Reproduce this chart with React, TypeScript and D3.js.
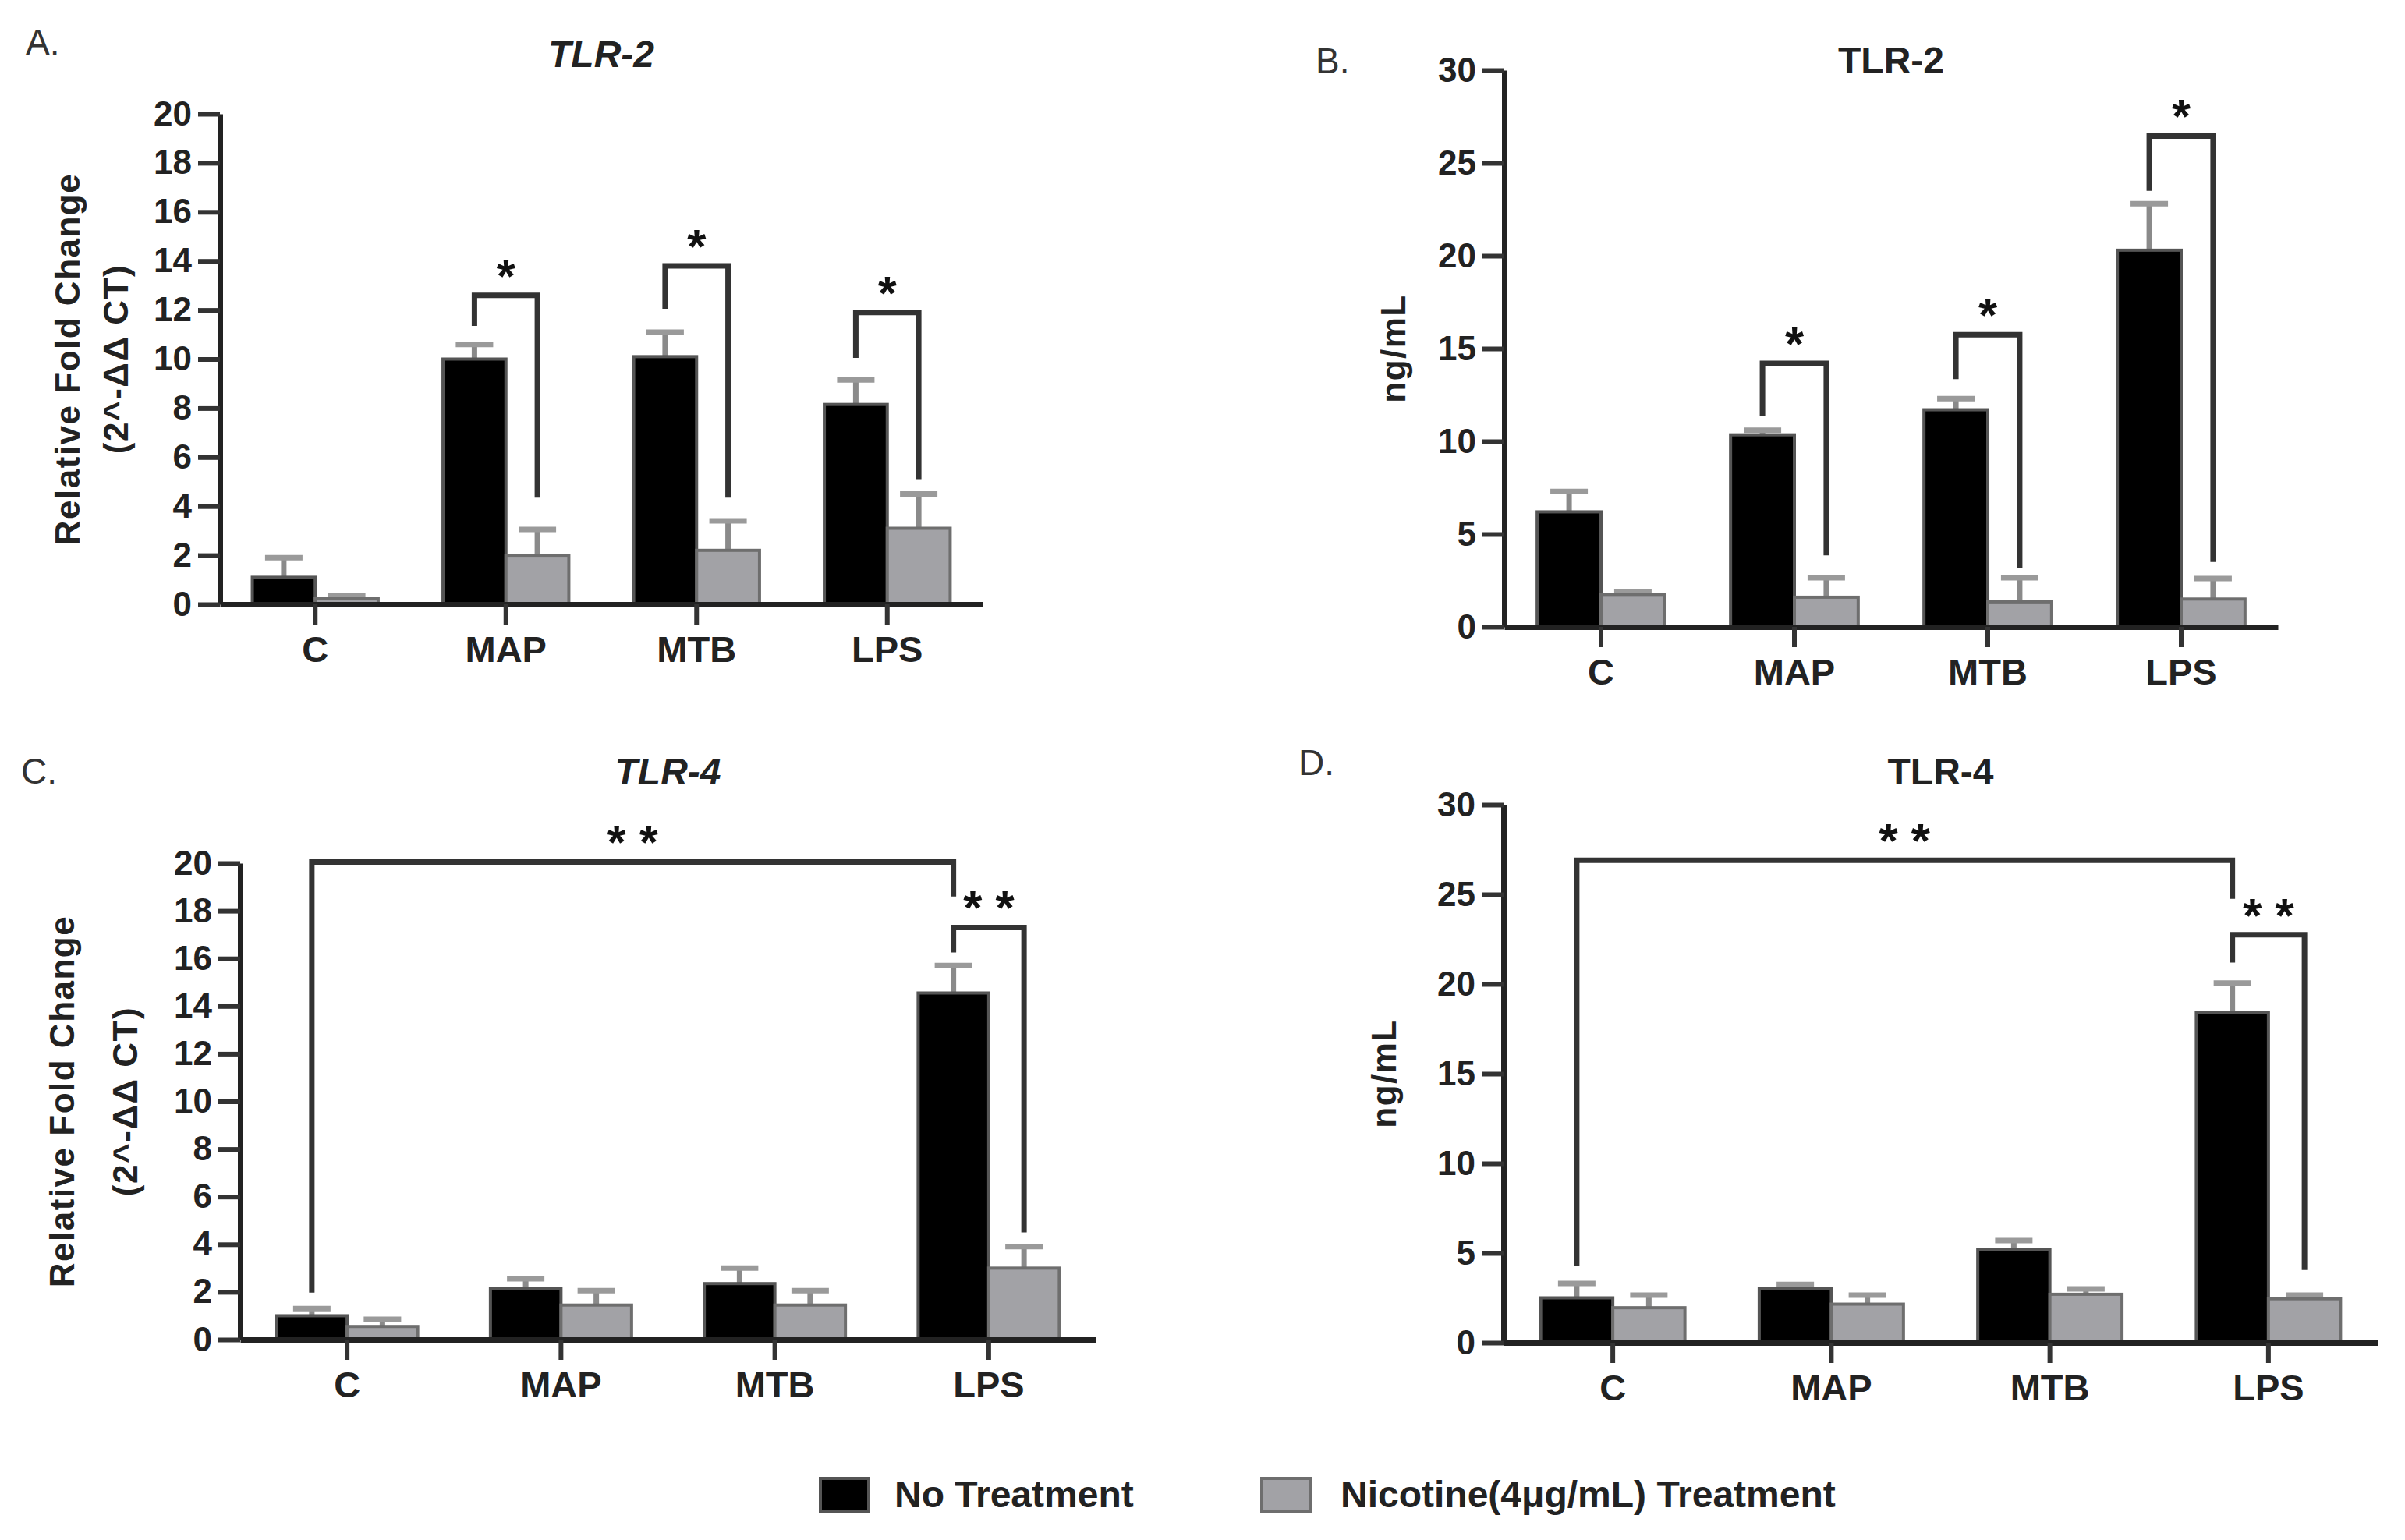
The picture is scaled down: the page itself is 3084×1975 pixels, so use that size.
import { useEffect, useRef } from "react";
import * as d3 from "d3";

const groups = ["C", "MAP", "MTB", "LPS"];
const legendLabels = ["No Treatment", "Nicotine(4μg/mL) Treatment"];

const foldTicks = [0, 2, 4, 6, 8, 10, 12, 14, 16, 18, 20];
const ngTicks = [0, 5, 10, 15, 20, 25, 30];

// A. TLR-2 relative fold change
const tlr2FoldNone = [1.1, 10.0, 10.1, 8.15];
const tlr2FoldNoneSem = [0.8, 0.6, 1.0, 1.0];
const tlr2FoldNic = [0.25, 2.0, 2.2, 3.1];
const tlr2FoldNicSem = [0.1, 1.05, 1.2, 1.4];

// B. TLR-2 ng/mL
const tlr2NgNone = [6.2, 10.35, 11.7, 20.3];
const tlr2NgNoneSem = [1.1, 0.25, 0.6, 2.5];
const tlr2NgNic = [1.75, 1.6, 1.35, 1.5];
const tlr2NgNicSem = [0.15, 1.05, 1.3, 1.1];

// C. TLR-4 relative fold change
const tlr4FoldNone = [1.0, 2.15, 2.35, 14.55];
const tlr4FoldNoneSem = [0.3, 0.4, 0.65, 1.15];
const tlr4FoldNic = [0.55, 1.45, 1.45, 3.0];
const tlr4FoldNicSem = [0.3, 0.6, 0.6, 0.9];

// D. TLR-4 ng/mL
const tlr4NgNone = [2.5, 3.0, 5.2, 18.4];
const tlr4NgNoneSem = [0.8, 0.25, 0.5, 1.65];
const tlr4NgNic = [1.95, 2.15, 2.7, 2.45];
const tlr4NgNicSem = [0.7, 0.5, 0.3, 0.2];

// significance brackets: [group, series] -> [group, series], heights in data units
type Bracket = { a: [number, number]; b: [number, number]; top: number; aEnd: number; bEnd: number; label: string };

const tlr2FoldBrackets: Bracket[] = [
  { a: [1, 0], b: [1, 1], top: 12.6, aEnd: 11.35, bEnd: 4.35, label: "*" },
  { a: [2, 0], b: [2, 1], top: 13.8, aEnd: 12.05, bEnd: 4.35, label: "*" },
  { a: [3, 0], b: [3, 1], top: 11.9, aEnd: 10.05, bEnd: 5.1, label: "*" },
];
const tlr2NgBrackets: Bracket[] = [
  { a: [1, 0], b: [1, 1], top: 14.2, aEnd: 11.35, bEnd: 3.85, label: "*" },
  { a: [2, 0], b: [2, 1], top: 15.75, aEnd: 13.35, bEnd: 3.15, label: "*" },
  { a: [3, 0], b: [3, 1], top: 26.45, aEnd: 23.5, bEnd: 3.5, label: "*" },
];
const tlr4FoldBrackets: Bracket[] = [
  { a: [0, 0], b: [3, 0], top: 20.05, aEnd: 1.97, bEnd: 18.6, label: "* *" },
  { a: [3, 0], b: [3, 1], top: 17.3, aEnd: 16.25, bEnd: 4.5, label: "* *" },
];
const tlr4NgBrackets: Bracket[] = [
  { a: [0, 0], b: [3, 0], top: 26.9, aEnd: 4.3, bEnd: 24.75, label: "* *" },
  { a: [3, 0], b: [3, 1], top: 22.75, aEnd: 21.2, bEnd: 4.05, label: "* *" },
];

const FONT = "'Liberation Sans', Arial, Helvetica, sans-serif";
const barColors = ["#000000", "#a2a2a6"];
const barStrokes = ["#555555", "#6e6e6e"];

const panels = [
  {
    letter: "A.", title: "TLR-2", italic: true, yLabel: ["Relative Fold Change", "(2^-ΔΔ CT)"],
    ticks: foldTicks, means: [tlr2FoldNone, tlr2FoldNic], sems: [tlr2FoldNoneSem, tlr2FoldNicSem], brackets: tlr2FoldBrackets,
    left: 282, right: 1260, top: 146, bottom: 775, letterX: 33, letterY: 70, titleY: 86, labelX: [87, 149],
  },
  {
    letter: "B.", title: "TLR-2", italic: false, yLabel: ["ng/mL"],
    ticks: ngTicks, means: [tlr2NgNone, tlr2NgNic], sems: [tlr2NgNoneSem, tlr2NgNicSem], brackets: tlr2NgBrackets,
    left: 1929, right: 2921, top: 90, bottom: 804, letterX: 1687, letterY: 94, titleY: 94, labelX: [1787],
  },
  {
    letter: "C.", title: "TLR-4", italic: true, yLabel: ["Relative Fold Change", "(2^-ΔΔ CT)"],
    ticks: foldTicks, means: [tlr4FoldNone, tlr4FoldNic], sems: [tlr4FoldNoneSem, tlr4FoldNicSem], brackets: tlr4FoldBrackets,
    left: 308, right: 1405, top: 1107, bottom: 1718, letterX: 27, letterY: 1005, titleY: 1006, labelX: [80, 161],
  },
  {
    letter: "D.", title: "TLR-4", italic: false, yLabel: ["ng/mL"],
    ticks: ngTicks, means: [tlr4NgNone, tlr4NgNic], sems: [tlr4NgNoneSem, tlr4NgNicSem], brackets: tlr4NgBrackets,
    left: 1928, right: 3049, top: 1032, bottom: 1722, letterX: 1665, letterY: 994, titleY: 1006, labelX: [1775],
  },
];

type Panel = (typeof panels)[0];

function drawPanel(svg: d3.Selection<SVGSVGElement, unknown, null, undefined>, p: Panel) {
  const x = d3.scaleBand<string>().domain(groups).range([p.left, p.right]).paddingInner(0.34).paddingOuter(0.17);
  const xs = d3.scaleBand<number>().domain([0, 1]).range([0, x.bandwidth()]);
  const y = d3.scaleLinear().domain([0, p.ticks[p.ticks.length - 1]]).range([p.bottom, p.top]);
  const g = svg.append("g").attr("font-family", FONT);

  // bars + SEM (upper only)
  [0, 1].forEach((s) => {
    const rows = groups.map((c, i) => ({ c, v: p.means[s][i], e: p.sems[s][i] }));
    const cx = (c: string) => (x(c) as number) + (xs(s) as number) + xs.bandwidth() / 2;

    g.append("g")
      .selectAll("line.stem")
      .data(rows)
      .enter()
      .append("line")
      .attr("x1", (d) => cx(d.c))
      .attr("x2", (d) => cx(d.c))
      .attr("y1", (d) => y(d.v))
      .attr("y2", (d) => y(d.v + d.e))
      .attr("stroke", "#8a8a8a")
      .attr("stroke-width", 7);

    g.append("g")
      .selectAll("line.cap")
      .data(rows)
      .enter()
      .append("line")
      .attr("x1", (d) => cx(d.c) - 24)
      .attr("x2", (d) => cx(d.c) + 24)
      .attr("y1", (d) => y(d.v + d.e))
      .attr("y2", (d) => y(d.v + d.e))
      .attr("stroke", "#9a9a9a")
      .attr("stroke-width", 7);

    g.append("g")
      .selectAll("rect")
      .data(rows)
      .enter()
      .append("rect")
      .attr("x", (d) => (x(d.c) as number) + (xs(s) as number))
      .attr("y", (d) => y(d.v))
      .attr("width", xs.bandwidth())
      .attr("height", (d) => y(0) - y(d.v))
      .attr("fill", barColors[s])
      .attr("stroke", barStrokes[s])
      .attr("stroke-width", 4);
  });

  // axes
  const yAxis = g
    .append("g")
    .attr("transform", `translate(${p.left},0)`)
    .call(d3.axisLeft(y).tickValues(p.ticks).tickSize(28).tickSizeOuter(0).tickPadding(8));
  yAxis.select(".domain").attr("stroke", "#222").attr("stroke-width", 7);
  yAxis.selectAll(".tick line").attr("stroke", "#333").attr("stroke-width", 6);
  yAxis.selectAll(".tick text").attr("font-size", 44).attr("font-weight", "bold").attr("fill", "#222").attr("font-family", FONT);

  const xAxis = g
    .append("g")
    .attr("transform", `translate(0,${p.bottom})`)
    .call(d3.axisBottom(x).tickSize(26).tickSizeOuter(0).tickPadding(15));
  xAxis.select(".domain").attr("stroke", "#222").attr("stroke-width", 7);
  xAxis.selectAll(".tick line").attr("stroke", "#333").attr("stroke-width", 6);
  xAxis.selectAll(".tick text").attr("font-size", 47).attr("font-weight", "bold").attr("fill", "#222").attr("font-family", FONT);

  // significance brackets
  const legX = (ref: [number, number]) => (x(groups[ref[0]]) as number) + (xs(ref[1]) as number) + xs.bandwidth() / 2;
  p.brackets.forEach((b) => {
    const xa = legX(b.a);
    const xb = legX(b.b);
    g.append("path")
      .attr("d", `M${xa},${y(b.aEnd)}V${y(b.top)}H${xb}V${y(b.bEnd)}`)
      .attr("fill", "none")
      .attr("stroke", "#333")
      .attr("stroke-width", 7);
    g.append("text")
      .attr("x", (xa + xb) / 2)
      .attr("y", y(b.top) - 4)
      .attr("text-anchor", "middle")
      .attr("font-size", 62)
      .attr("font-weight", "bold")
      .attr("fill", "#111")
      .text(b.label);
  });

  // title, panel letter, y label
  g.append("text")
    .attr("x", (p.left + p.right) / 2)
    .attr("y", p.titleY)
    .attr("text-anchor", "middle")
    .attr("font-size", 48)
    .attr("font-weight", "bold")
    .attr("font-style", p.italic ? "italic" : "normal")
    .attr("fill", "#222")
    .text(p.title);

  g.append("text")
    .attr("x", p.letterX)
    .attr("y", p.letterY)
    .attr("font-size", 46)
    .attr("fill", "#333")
    .text(p.letter);

  p.yLabel.forEach((t, i) => {
    g.append("text")
      .attr("transform", `translate(${p.labelX[i]},${(p.top + p.bottom) / 2}) rotate(-90)`)
      .attr("text-anchor", "middle")
      .attr("dy", "0.35em")
      .attr("font-size", 44)
      .attr("font-weight", "bold")
      .attr("letter-spacing", 1.5)
      .attr("fill", "#222")
      .text(t);
  });
}

export default function App() {
  const svgRef = useRef<SVGSVGElement>(null);

  useEffect(() => {
    if (!svgRef.current) return;
    const svg = d3.select(svgRef.current);
    svg.selectAll("*").remove();

    panels.forEach((p) => drawPanel(svg, p));

    // legend
    const legend = svg.append("g").attr("font-family", FONT);
    const items = [
      { label: legendLabels[0], x: 1052, tx: 1147 },
      { label: legendLabels[1], x: 1618, tx: 1719 },
    ];
    items.forEach((it, i) => {
      legend
        .append("rect")
        .attr("x", it.x)
        .attr("y", 1896)
        .attr("width", 62)
        .attr("height", 42)
        .attr("fill", barColors[i])
        .attr("stroke", barStrokes[i])
        .attr("stroke-width", 4);
      legend
        .append("text")
        .attr("x", it.tx)
        .attr("y", 1933)
        .attr("font-size", 48)
        .attr("font-weight", "bold")
        .attr("fill", "#222")
        .text(it.label);
    });
  }, []);

  return (
    <svg
      ref={svgRef}
      width={3084}
      height={1975}
      viewBox="0 0 3084 1975"
      style={{ position: "absolute", left: 0, top: 0, background: "#fff" }}
    />
  );
}
